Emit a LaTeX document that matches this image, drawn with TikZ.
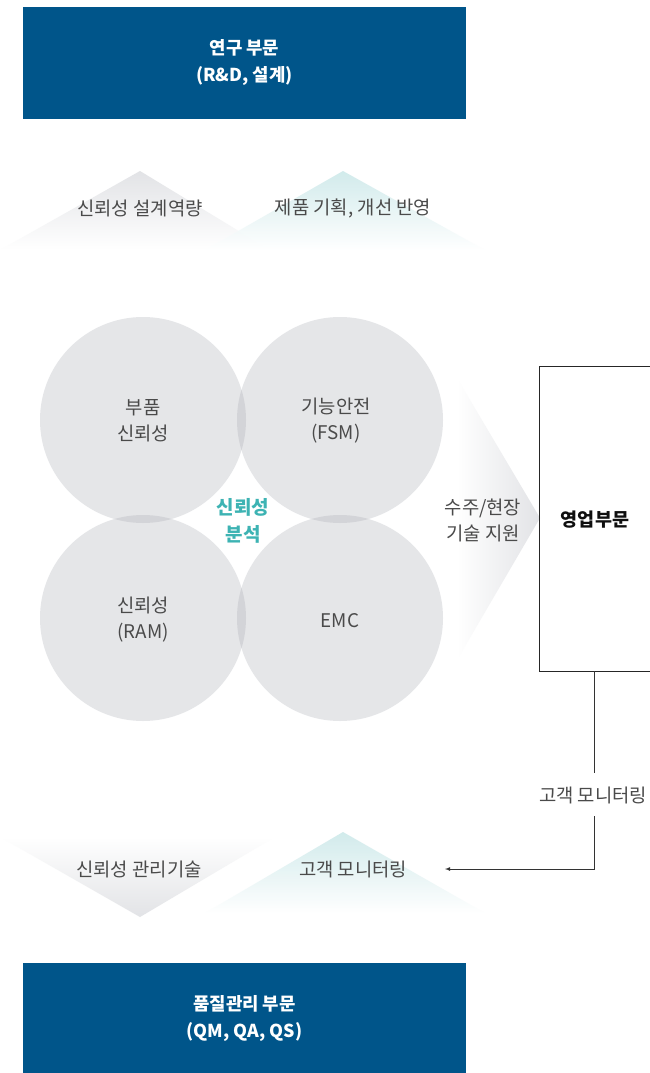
\documentclass[tikz,border=0pt]{standalone}
\usepackage{fontspec}
\setmainfont{Noto Sans CJK KR}
\begin{document}
\begin{tikzpicture}[x=1pt,y=-1pt,
  txt/.style={text=textgray,font=\fontsize{18.8}{26}\selectfont,align=center,inner sep=0pt},
  btxt/.style={text=white,font=\bfseries\fontsize{17.8}{27}\selectfont,align=center,inner sep=0pt},
  deptbox/.style={fill=deptblue,draw=none,minimum width=443pt,minimum height=112pt,inner sep=0pt},
  circ/.style={circle,fill=circgray,minimum size=206pt,inner sep=0pt},
  conn/.style={draw=black!80,line width=0.8pt}]
\definecolor{deptblue}{HTML}{00558A}
\definecolor{circgray}{HTML}{E5E6E8}
\definecolor{overgray}{HTML}{D3D4D8}
\definecolor{textgray}{HTML}{4A4A4A}
\definecolor{tealtxt}{HTML}{3DB3B3}
\definecolor{tealtri}{HTML}{CDE9EA}
\definecolor{graytri}{HTML}{E2E3E6}
\useasboundingbox (0,0) rectangle (650,1073);
\fill[white] (0,0) rectangle (650,1073);

% top department
\node[deptbox] (rnd) at (244.5,63) {};
\node[btxt] (rndtxt) at (244.5,62.5) {연구 부문\\(R\&D, 설계)};

% top triangles
\shade[top color=graytri,bottom color=white] (140,171) -- (270,250) -- (0,250) -- cycle;
\shade[top color=tealtri,bottom color=white,opacity=0.9] (343,171) -- (485,250) -- (205,250) -- cycle;
\node[txt] (t1) at (140,208) {신뢰성 설계역량};
\node[txt] (t2) at (353,208) {제품 기획, 개선 반영};

% circles
\node[circ] (c1) at (143,420) {};
\node[circ] (c2) at (340,420) {};
\node[circ] (c3) at (143,618) {};
\node[circ] (c4) at (340,618) {};
\begin{scope}
  \clip (143,420) circle (103);
  \fill[overgray] (340,420) circle (103);
  \fill[overgray] (143,618) circle (103);
\end{scope}
\begin{scope}
  \clip (340,618) circle (103);
  \fill[overgray] (340,420) circle (103);
  \fill[overgray] (143,618) circle (103);
\end{scope}
\node[txt] (l1) at (143,421) {부품\\신뢰성};
\node[txt] (l2) at (336,421) {기능안전\\(FSM)};
\node[txt] (l3) at (143,620) {신뢰성\\(RAM)};
\node[txt] (l4) at (340,621) {EMC};
\node[txt,text=tealtxt,font=\bfseries\fontsize{19}{27}\selectfont] (center) at (243,521) {신뢰성\\분석};

% right-pointing triangle
\shade[left color=white,right color=graytri] (457,378) -- (540,518) -- (457,660) -- cycle;
\node[txt] (support) at (483,520) {수주/현장\\기술 지원};

% sales department
\node[draw=black!85,line width=0.8pt,minimum width=115pt,minimum height=305pt,inner sep=0pt] (sales) at (596.5,518.5) {};
\node[text=textgray!20!black,font=\bfseries\fontsize{18.5}{20}\selectfont,inner sep=0pt] (salestxt) at (595,520) {영업부문};

% customer monitoring connector
\node[txt] (mon) at (593,795) {고객 모니터링};
\coordinate (stop) at (594,671);
\coordinate (mtop) at (594,773);
\coordinate (mbot) at (594,816);
\coordinate (arrowend) at (445,869);
\draw[conn] (stop) -- (mtop);
\draw[conn,-latex] (mbot) |- (arrowend);

% bottom triangles
\shade[top color=white,bottom color=graytri] (0,837) -- (275,837) -- (140,917) -- cycle;
\shade[top color=tealtri,bottom color=white,opacity=0.9] (343,832) -- (485,913) -- (205,913) -- cycle;
\node[txt] (b1) at (139,869) {신뢰성 관리기술};
\node[txt] (b2) at (353,869) {고객 모니터링};

% bottom department
\node[deptbox,minimum height=110pt] (qa) at (244.5,1018) {};
\node[btxt] (qatxt) at (244.5,1018.5) {품질관리 부문\\(QM, QA, QS)};
\end{tikzpicture}
\end{document}
